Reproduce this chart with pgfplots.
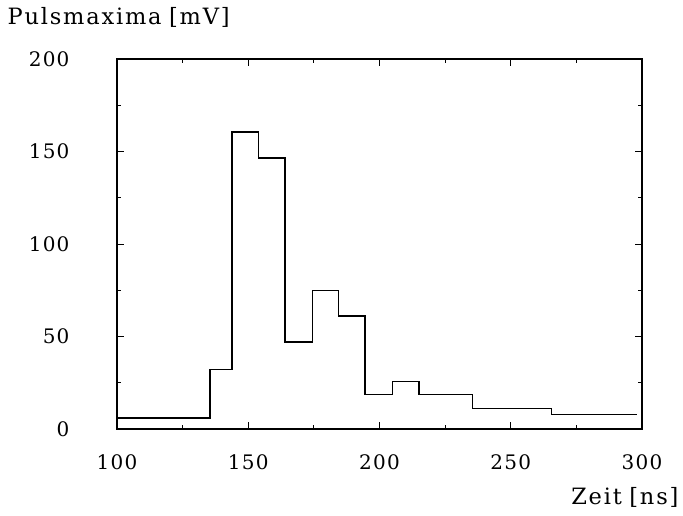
\documentclass[border=0pt]{standalone}
\usepackage{fontspec}
\setmainfont{DejaVu Serif}
\newfontfamily\labelfont{DejaVu Serif}[LetterSpace=8]
\newfontfamily\numfont{DejaVu Serif}[LetterSpace=6]
\usepackage{pgfplots}
\pgfplotsset{compat=1.18}
\begin{document}
\begin{tikzpicture}[x=1pt,y=1pt]
\path[use as bounding box] (0,0) rectangle (683,516);
\begin{axis}[
  at={(117pt,87pt)}, anchor=south west,
  scale only axis, width=525pt, height=370pt,
  xmin=100, xmax=300, ymin=0, ymax=200,
  xtick={100,150,...,300}, ytick={0,50,...,200},
  minor tick num=1,
  tick align=inside,
  major tick length=7pt, minor tick length=4pt,
  axis line style={line width=1.2pt},
  every tick/.style={black, line width=0.9pt},
  /pgf/number format/assume math mode=true,
  tick label style={font=\numfont\fontsize{20}{24}\selectfont},
  xticklabel style={yshift=-22pt},
  yticklabel style={xshift=-44pt},
  label style={font=\labelfont\fontsize{22.5}{27}\selectfont},
  xlabel={Zeit\,\,[ns]},
  xlabel style={at={(axis description cs:1.076,-0.186)}, anchor=east},
  ylabel={Pulsmaxima\,\,[mV]},
  ylabel style={at={(axis description cs:-0.215,1.111)}, anchor=west, rotate=-90},
]
\addplot[const plot, black, line width=1.3pt] coordinates {
  (100,6) (135.4,32) (143.8,160.5) (153.8,146.5) (164,47) (174.5,75)
  (184.5,61) (194.5,18.5) (205,25.5) (215,18.8) (235.5,11) (265.5,8)
  (298,8)
};
\end{axis}
\end{tikzpicture}
\end{document}
